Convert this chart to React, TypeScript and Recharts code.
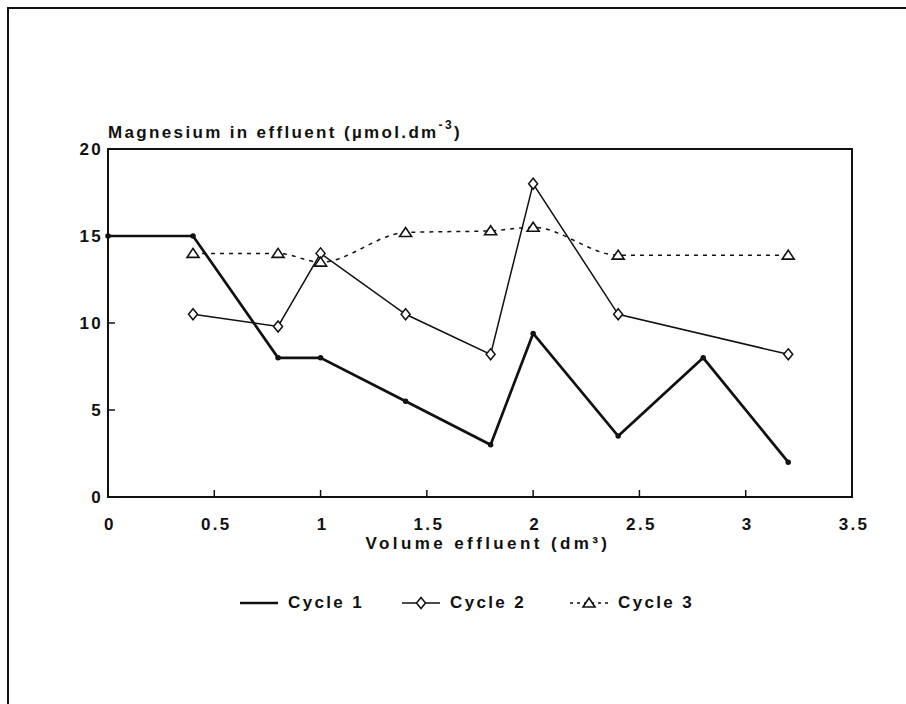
import React from 'react'
import { LineChart, Line, XAxis, YAxis, ReferenceArea, Legend } from 'recharts'

const volume = [0, 0.4, 0.8, 1, 1.4, 1.8, 2, 2.4, 2.8, 3.2]
const cycle1 = [15, 15, 8, 8, 5.5, 3, 9.4, 3.5, 8, 2]
const cycle2 = [null, 10.5, 9.8, 14, 10.5, 8.2, 18, 10.5, null, 8.2]
const cycle3 = [null, 14, 14, 13.5, 15.2, 15.3, 15.5, 13.9, null, 13.9]
const xTicks = [0, 0.5, 1, 1.5, 2, 2.5, 3, 3.5]
const yTicks = [0, 5, 10, 15, 20]
const seriesNames = ['Cycle 1', 'Cycle 2', 'Cycle 3']

const rows = volume.map((v, i) => ({ v, c1: cycle1[i], c2: cycle2[i], c3: cycle3[i] }))

const INK = '#111'
const FONT = '"Liberation Sans", Arial, sans-serif'
const textStyle = { fontFamily: FONT, fontWeight: 700, fontSize: 17, letterSpacing: 2.35, fill: INK }

const YTick = (p: any) => (
  <g>
    <line x1={p.x} y1={p.y} x2={p.x + 7} y2={p.y} stroke={INK} strokeWidth={1.5} />
    <text x={p.x - 5} y={p.y} textAnchor="end" dominantBaseline="central" style={textStyle}>
      {p.payload.value}
    </text>
  </g>
)

const XTick = (p: any) => (
  <g>
    <line x1={p.x} y1={p.y} x2={p.x} y2={p.y - 7} stroke={INK} strokeWidth={1.5} />
    <text x={p.x + 2} y={p.y + 27} textAnchor="middle" dominantBaseline="central" style={textStyle}>
      {p.payload.value}
    </text>
  </g>
)

const Diamond = (p: any) => {
  if (p.cx == null || p.cy == null || p.value == null) return null
  const { cx, cy } = p
  return <path d={`M${cx},${cy - 5.5} L${cx + 4.5},${cy} L${cx},${cy + 5.5} L${cx - 4.5},${cy} Z`} fill="#fff" stroke={INK} strokeWidth={1.5} />
}

const Triangle = (p: any) => {
  if (p.cx == null || p.cy == null || p.value == null) return null
  const { cx, cy } = p
  return <path d={`M${cx},${cy - 5} L${cx + 6},${cy + 4} L${cx - 6},${cy + 4} Z`} fill="#fff" stroke={INK} strokeWidth={1.6} />
}

const YTitle = (p: any) => {
  const vb = p.viewBox
  return (
    <text x={vb.x + vb.width} y={vb.y - 17} dominantBaseline="central" style={textStyle}>
      Magnesium in effluent (µmol.dm
      <tspan dy={-7} fontSize={12}>-3</tspan>
      <tspan dy={7}>)</tspan>
    </text>
  )
}

const XTitle = (p: any) => {
  const vb = p.viewBox
  return (
    <text x={vb.x + vb.width / 2 + 8} y={vb.y + 46} textAnchor="middle" dominantBaseline="central"
      style={{ ...textStyle, letterSpacing: 3.4 }}>
      Volume effluent (dm³)
    </text>
  )
}

const legendLeft = [240, 402, 570]

const LegendBox = () => (
  <div style={{ position: 'relative', width: 906, height: 20 }}>
    {seriesNames.map((name, i) => (
      <div key={name} style={{ position: 'absolute', left: legendLeft[i], top: 0, height: 20, display: 'flex', alignItems: 'center' }}>
        <svg width={38} height={16}>
          <line x1={0} y1={8} x2={38} y2={8} stroke={INK}
            strokeWidth={i === 0 ? 2.5 : 1.3} strokeDasharray={i === 2 ? '3 4' : undefined} />
          {i === 1 && <Diamond cx={19} cy={8} value={1} />}
          {i === 2 && <Triangle cx={19} cy={8} value={1} />}
        </svg>
        <span style={{ marginLeft: 10, fontFamily: FONT, fontWeight: 700, fontSize: 17, letterSpacing: 2.35, color: INK }}>{name}</span>
      </div>
    ))}
  </div>
)

export default function App() {
  return (
    <div style={{ position: 'absolute', left: 0, top: 0, width: 906, height: 704, overflow: 'hidden', background: '#fff' }}>
      <div style={{ position: 'absolute', left: 7, top: 7, width: 920, height: 720, borderLeft: `2px solid ${INK}`, borderTop: `2px solid ${INK}` }} />
      <LineChart width={906} height={704} data={rows} margin={{ top: 149, right: 54, left: 48, bottom: 147 }}>
        <XAxis dataKey="v" type="number" domain={[0, 3.5]} ticks={xTicks} height={60}
          tickSize={0} tickMargin={0} tick={<XTick />} axisLine={{ stroke: INK, strokeWidth: 2 }}
          label={{ content: <XTitle /> }} />
        <YAxis type="number" domain={[0, 20]} ticks={yTicks} width={60}
          tickSize={0} tickMargin={0} tick={<YTick />} axisLine={{ stroke: INK, strokeWidth: 2 }}
          label={{ content: <YTitle /> }} />
        <ReferenceArea x1={0} x2={3.5} y1={0} y2={20} fill="none" fillOpacity={0} stroke={INK} strokeWidth={2} />
        <Legend verticalAlign="middle" layout="horizontal" align="center"
          wrapperStyle={{ top: 593, left: 0, width: 906 }} content={<LegendBox />} />
        <Line dataKey="c1" name="Cycle 1" type="linear" stroke={INK} strokeWidth={2.7}
          dot={{ r: 1.4, fill: INK, stroke: INK }} connectNulls isAnimationActive={false} />
        <Line dataKey="c2" name="Cycle 2" type="linear" stroke={INK} strokeWidth={1.5}
          dot={<Diamond />} connectNulls isAnimationActive={false} />
        <Line dataKey="c3" name="Cycle 3" type="monotone" stroke={INK} strokeWidth={1.5} strokeDasharray="4 5"
          dot={<Triangle />} connectNulls isAnimationActive={false} />
      </LineChart>
    </div>
  )
}
